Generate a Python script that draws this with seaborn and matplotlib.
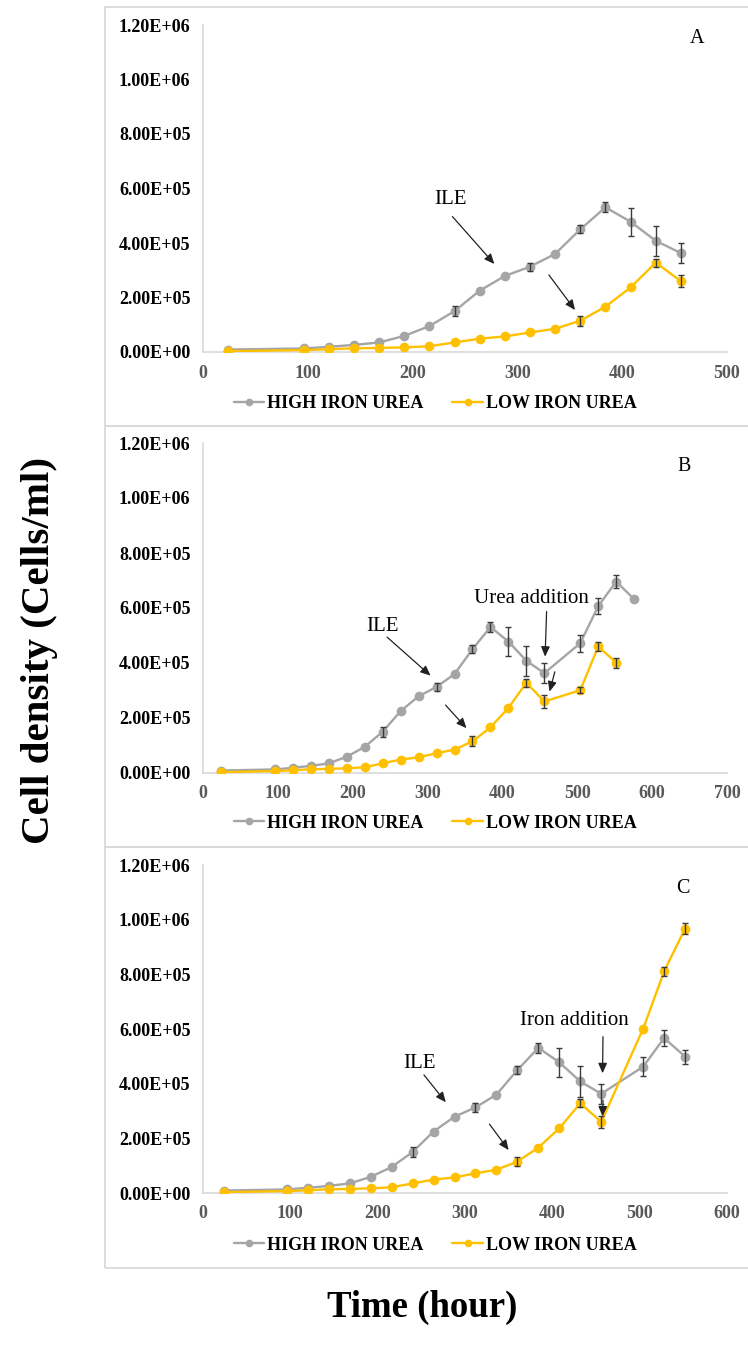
import matplotlib
matplotlib.use("Agg")
import matplotlib.pyplot as plt
from matplotlib.lines import Line2D
from matplotlib.patches import Rectangle
import seaborn as sns
import pandas as pd

# ---- data -----------------------------------------------------------------
time_base = [24, 96, 120, 144, 168, 192, 216, 240, 264, 288, 312, 336, 360, 384, 408, 432, 456]
high_base = [9e3, 1.3e4, 1.9e4, 2.6e4, 3.5e4, 5.9e4, 9.5e4, 1.5e5, 2.25e5, 2.79e5, 3.13e5,
             3.6e5, 4.5e5, 5.31e5, 4.78e5, 4.08e5, 3.63e5]
high_base_err = [0, 0, 0, 0, 0, 0, 0, 1.8e4, 0, 0, 1.5e4, 0, 1.5e4, 1.8e4, 5.2e4, 5.5e4, 3.7e4]
low_base = [3e3, 7e3, 1e4, 1.35e4, 1.5e4, 1.7e4, 2.1e4, 3.5e4, 4.9e4, 5.7e4, 7.2e4, 8.5e4,
            1.15e5, 1.66e5, 2.37e5, 3.28e5, 2.6e5]
low_base_err = [0, 0, 0, 0, 0, 0, 0, 0, 0, 0, 0, 0, 1.8e4, 0, 0, 1.5e4, 2.3e4]

# panel B continues after urea addition
time_b_high_extra = [504, 528, 552, 576]
high_b_extra = [4.72e5, 6.07e5, 6.96e5, 6.32e5]
high_b_extra_err = [3.1e4, 3e4, 2.3e4, 0]
time_b_low_extra = [504, 528, 552]
low_b_extra = [3.01e5, 4.6e5, 4.01e5]
low_b_extra_err = [1e4, 1.7e4, 1.8e4]

# panel C continues after iron addition
time_c_extra = [504, 528, 552]
high_c_extra = [4.62e5, 5.67e5, 4.99e5]
high_c_extra_err = [3.5e4, 3e4, 2.6e4]
low_c_extra = [6.01e5, 8.11e5, 9.67e5]
low_c_extra_err = [0, 1.7e4, 2e4]

series_names = ["HIGH IRON UREA", "LOW IRON UREA"]
panel_letters = ["A", "B", "C"]
y_ticks = [0, 2e5, 4e5, 6e5, 8e5, 1e6, 1.2e6]
y_tick_labels = ["0.00E+00", "2.00E+05", "4.00E+05", "6.00E+05", "8.00E+05", "1.00E+06", "1.20E+06"]
x_ticks_a = [0, 100, 200, 300, 400, 500]
x_ticks_b = [0, 100, 200, 300, 400, 500, 600, 700]
x_ticks_c = [0, 100, 200, 300, 400, 500, 600]

# ---- style ----------------------------------------------------------------
sns.set_theme(style="white")
plt.rcParams["font.family"] = ["Liberation Serif", "DejaVu Serif"]
plt.rcParams["text.color"] = "black"

GRAY = "#A5A5A5"
GOLD = "#FFC000"
ERR = "#3a3a3a"
AXIS = "#d9d9d9"

W, H = 748, 1352
fig = plt.figure(figsize=(W / 100, H / 100), dpi=100)


def fx(px):
    return px / W


def fy(py):
    return 1 - py / H


# panel frames
for top, bot in [(7, 426), (426, 847), (847, 1268)]:
    fig.patches.append(Rectangle((fx(105), fy(bot)), fx(700), (bot - top) / H,
                                 transform=fig.transFigure, fill=False,
                                 edgecolor=AXIS, linewidth=1.3, zorder=0))

# axes boxes (pixel extents)
boxes = [(25, 352), (443, 773), (865, 1193)]
axes = []
for top, bot in boxes:
    ax = fig.add_axes([fx(203), fy(bot), fx(727 - 203), (bot - top) / H])
    axes.append(ax)

panels = [
    dict(t_high=time_base, high=high_base, high_err=high_base_err,
         t_low=time_base, low=low_base, low_err=low_base_err, xticks=x_ticks_a),
    dict(t_high=time_base + time_b_high_extra, high=high_base + high_b_extra,
         high_err=high_base_err + high_b_extra_err,
         t_low=time_base + time_b_low_extra, low=low_base + low_b_extra,
         low_err=low_base_err + low_b_extra_err, xticks=x_ticks_b),
    dict(t_high=time_base + time_c_extra, high=high_base + high_c_extra,
         high_err=high_base_err + high_c_extra_err,
         t_low=time_base + time_c_extra, low=low_base + low_c_extra,
         low_err=low_base_err + low_c_extra_err, xticks=x_ticks_c),
]

for ax, p in zip(axes, panels):
    for name, t, v, e, col in [(series_names[0], p["t_high"], p["high"], p["high_err"], GRAY),
                               (series_names[1], p["t_low"], p["low"], p["low_err"], GOLD)]:
        df = pd.DataFrame({"time": t, "cells": v, "err": e})
        sns.lineplot(data=df, x="time", y="cells", ax=ax, color=col, linewidth=1.7,
                     marker="o", markersize=7, markeredgewidth=0, legend=False,
                     errorbar=None, zorder=3)
        eb = df[df["err"] > 0]
        ax.errorbar(eb["time"], eb["cells"], yerr=eb["err"], fmt="none", ecolor=ERR,
                    elinewidth=1.0, capsize=2.5, capthick=1.0, zorder=4)

    ax.set_xlim(0, p["xticks"][-1])
    ax.set_ylim(0, 1.2e6)
    ax.set_xticks(p["xticks"])
    ax.set_xticklabels([str(v) for v in p["xticks"]])
    ax.set_yticks(y_ticks)
    ax.set_yticklabels(y_tick_labels)
    ax.set_xlabel("")
    ax.set_ylabel("")
    for s in ["top", "right"]:
        ax.spines[s].set_visible(False)
    for s in ["left", "bottom"]:
        ax.spines[s].set_color(AXIS)
        ax.spines[s].set_linewidth(1.2)
    ax.tick_params(axis="y", direction="out", length=4, width=1.0, color=AXIS, pad=5,
                   labelsize=13, labelcolor="black")
    ax.tick_params(axis="x", direction="in", length=4, width=1.0, color=AXIS, pad=9,
                   labelsize=13, labelcolor="#595959")
    for lab in ax.get_yticklabels() + ax.get_xticklabels():
        lab.set_fontweight("bold")
    ax.set_facecolor("none")

# legends
legend_y = [-0.159, -0.152, -0.159]
handles = [Line2D([0], [0], color=GRAY, lw=1.7, marker="o", markersize=5.5, markeredgewidth=0),
           Line2D([0], [0], color=GOLD, lw=1.7, marker="o", markersize=5.5, markeredgewidth=0)]
for ax, ly in zip(axes, legend_y):
    leg = ax.legend(handles, series_names, loc="center", bbox_to_anchor=(0.443, ly), ncol=2,
                    frameon=False, prop={"weight": "bold", "size": 13}, handlelength=1.7,
                    handletextpad=0.15, columnspacing=1.6)
    for txt in leg.get_texts():
        txt.set_color("black")

# panel letters
letter_pos = [(0.943, 0.960), (0.919, 0.928), (0.915, 0.929)]
for ax, letter, (lx, ly) in zip(axes, panel_letters, letter_pos):
    ax.text(lx, ly, letter, transform=ax.transAxes, ha="center", va="center", fontsize=14.5,
            color="black")

arrow_kw = dict(arrowstyle="-|>,head_length=0.5,head_width=0.22", color="#222222", lw=0.9,
                shrinkA=0, shrinkB=0)
note_size = 15

# panel A notes
axA, axB, axC = axes
axA.text(236, 5.61e5, "ILE", ha="center", va="center", fontsize=note_size, color="black")
axA.annotate("", xy=(278, 3.23e5), xytext=(238, 4.97e5), arrowprops=arrow_kw)
axA.annotate("", xy=(355, 1.54e5), xytext=(330, 2.83e5), arrowprops=arrow_kw)

# panel B notes
axB.text(240, 5.32e5, "ILE", ha="center", va="center", fontsize=note_size, color="black")
axB.annotate("", xy=(304, 3.54e5), xytext=(246, 4.94e5), arrowprops=arrow_kw)
axB.annotate("", xy=(352, 1.63e5), xytext=(324, 2.47e5), arrowprops=arrow_kw)
axB.text(439, 6.33e5, "Urea addition", ha="center", va="center", fontsize=note_size,
         color="black")
axB.annotate("", xy=(457, 4.23e5), xytext=(459, 5.87e5), arrowprops=arrow_kw)
axB.annotate("", xy=(463, 2.96e5), xytext=(470, 3.68e5), arrowprops=arrow_kw)

# panel C notes
axC.text(248, 4.75e5, "ILE", ha="center", va="center", fontsize=note_size, color="black")
axC.annotate("", xy=(278, 3.32e5), xytext=(253, 4.32e5), arrowprops=arrow_kw)
axC.annotate("", xy=(350, 1.57e5), xytext=(328, 2.52e5), arrowprops=arrow_kw)
axC.text(425, 6.3e5, "Iron addition", ha="center", va="center", fontsize=note_size,
         color="black")
axC.annotate("", xy=(457.5, 4.38e5), xytext=(458, 5.72e5), arrowprops=arrow_kw)
axC.annotate("", xy=(457.5, 2.8e5), xytext=(458, 3.4e5), arrowprops=arrow_kw)

# shared axis titles
fig.text(fx(40), fy(651), "Cell density (Cells/ml)", rotation=90, ha="center", va="center",
         fontsize=29.5, fontweight="bold", color="black")
fig.text(fx(422), fy(1307), "Time (hour)", ha="center", va="center",
         fontsize=26.5, fontweight="bold", color="black")

fig.savefig("out.png", dpi=100)
